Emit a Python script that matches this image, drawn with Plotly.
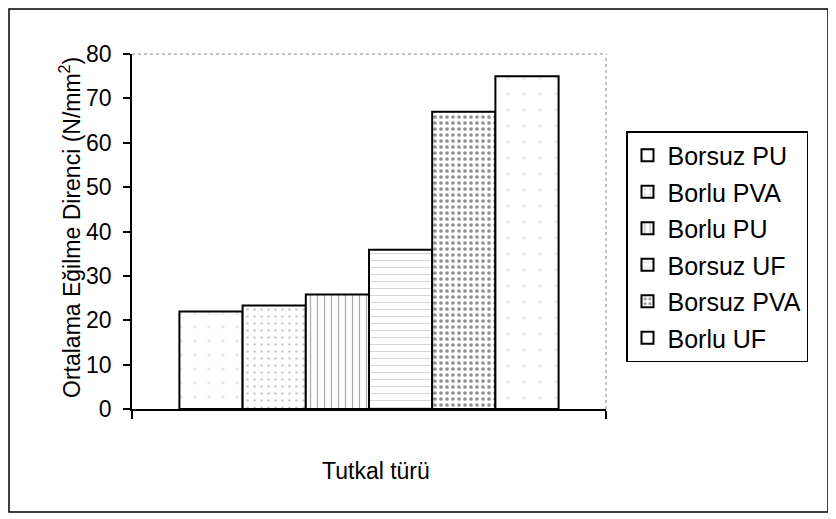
import plotly.graph_objects as go

series_names = ["Borsuz PU", "Borlu PVA", "Borlu PU", "Borsuz UF", "Borsuz PVA", "Borlu UF"]
series_values = [22.0, 23.3, 25.8, 35.9, 67.0, 75.0]
category = [0]
y_ticks = [0, 10, 20, 30, 40, 50, 60, 70, 80]

patterns = [
    dict(shape=".", fgcolor="#d0d0d0", size=14, solidity=0.05),
    dict(shape=".", fgcolor="#9a9a9a", size=7, solidity=0.12),
    dict(shape="|", fgcolor="#555555", size=7, solidity=0.18),
    dict(shape="-", fgcolor="#9a9a9a", size=7, solidity=0.12),
    dict(shape=".", fgcolor="#222222", size=6, solidity=0.3),
    dict(shape=".", fgcolor="#d0d0d0", size=16, solidity=0.04),
]

fig = go.Figure()
for i, (name, val) in enumerate(zip(series_names, series_values)):
    fig.add_trace(go.Bar(
        x=category, y=[val], name=name, legendgroup=name,
        marker=dict(color="white", line=dict(color="black", width=2),
                    pattern=patterns[i]),
    ))

OFF = 8  # page body margin
W, H = 836 - OFF, 519 - OFF
L, R, T, B = 132 - OFF, 606 - OFF, 54 - OFF, 409 - OFF
pw, ph = R - L, B - T

def px(x):
    return (x - OFF - L) / pw

def py(y):
    return (B - (y - OFF)) / ph

fig.update_layout(
    width=W, height=H,
    margin=dict(l=L, r=W - R, t=T, b=H - B, pad=0),
    paper_bgcolor="white", plot_bgcolor="white",
    barmode="group", bargap=0.2, bargroupgap=0,
    font=dict(family="Liberation Sans, Arial, sans-serif", size=23, color="black"),
    showlegend=True,
    legend=dict(x=px(626), y=py(131), xanchor="left", yanchor="top",
                bordercolor="black", borderwidth=1.5, bgcolor="white",
                font=dict(size=25), traceorder="grouped", tracegroupgap=1,
                itemwidth=30),
    xaxis=dict(range=[-0.5, 0.5], tickvals=[-0.5, 0.5], ticktext=["", ""],
               ticks="outside", ticklen=8, tickcolor="black", tickwidth=1.5,
               showline=True, linecolor="black", linewidth=1.5,
               showgrid=False, zeroline=False, fixedrange=True),
    yaxis=dict(range=[0, 80], tickvals=y_ticks, ticks="outside", ticklen=7,
               tickcolor="black", tickwidth=1.5, showline=True,
               linecolor="black", linewidth=1.5, showgrid=False,
               zeroline=False, tickfont=dict(size=23), ticklabelstandoff=7),
    shapes=[
        dict(type="rect", xref="paper", yref="paper",
             x0=px(9), x1=px(828), y0=py(512), y1=py(9),
             line=dict(color="black", width=1.5)),
        dict(type="line", xref="paper", yref="paper", x0=0, x1=1, y0=1, y1=1,
             line=dict(color="#888888", width=1, dash="dot")),
        dict(type="line", xref="paper", yref="paper", x0=1, x1=1, y0=0, y1=1,
             line=dict(color="#888888", width=1, dash="dot")),
    ],
    annotations=[
        dict(text="Ortalama Eğilme Direnci (N/mm<sup>2</sup>)", textangle=-90,
             xref="paper", yref="paper", x=px(70), y=py(228),
             xanchor="center", yanchor="middle", showarrow=False,
             font=dict(size=23)),
        dict(text="Tutkal türü", xref="paper", yref="paper",
             x=px(376), y=py(471), xanchor="center", yanchor="middle",
             showarrow=False, font=dict(size=23)),
    ],
)

fig.write_html("out.html")
